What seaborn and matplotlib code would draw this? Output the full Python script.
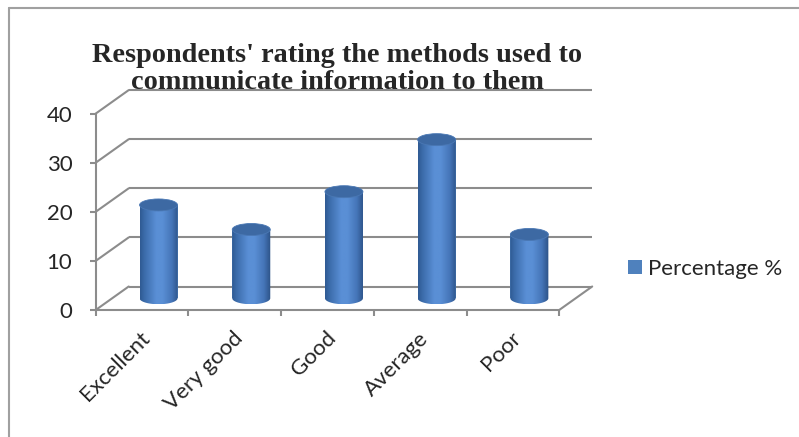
import numpy as np
import matplotlib
matplotlib.use("Agg")
import matplotlib.pyplot as plt
import matplotlib.transforms as mtransforms
from matplotlib.patches import Ellipse, PathPatch
from matplotlib.path import Path
from matplotlib.lines import Line2D
from matplotlib.colors import LinearSegmentedColormap
import seaborn as sns

# ---- data ----
categories = ["Excellent", "Very good", "Good", "Average", "Poor"]
percentages = [19.0, 14.0, 21.7, 32.3, 13.0]
y_ticks = [0, 10, 20, 30, 40]
title_lines = ["Respondents' rating the methods used to",
               "communicate information to them"]
series_label = "Percentage %"

# ---- style ----
sns.set_style("white")
plt.rcParams["font.family"] = ["Lato", "DejaVu Sans"]

W, H, DPI = 799, 437, 100
GRID = "#8c8c8c"
BLUE = "#4f81bd"
TICK_FS = 16

fig = plt.figure(figsize=(W / DPI, H / DPI), dpi=DPI)

# front plane of the 3-D box, in pixels from the top-left corner
left_px, right_px, base_px, top_px = 95.7, 559.2, 310.0, 113.6
ax = fig.add_axes([left_px / W, 1 - base_px / H,
                   (right_px - left_px) / W, (base_px - top_px) / H])
n = len(categories)
ymax = y_ticks[-1]

# depth of the box (pixels) and the same depth in data units
depth_dx, depth_dy = 33.0, 23.5
px_per_cat = (right_px - left_px) / n
px_per_unit = (base_px - top_px) / ymax
ddx, ddy = depth_dx / px_per_cat, depth_dy / px_per_unit

# bars sit half way into the box
mid = mtransforms.offset_copy(ax.transData, fig=fig,
                              x=depth_dx / 2, y=depth_dy / 2, units="dots")

# back wall gridlines, side-wall diagonals and floor edge
x_lo, x_hi = -0.5, n - 0.5
for t in y_ticks:
    ax.plot([x_lo + ddx, x_hi + ddx], [t + ddy, t + ddy], color=GRID,
            lw=1.5, clip_on=False, zorder=1, solid_capstyle="butt")
    ax.plot([x_lo, x_lo + ddx], [t, t + ddy], color=GRID,
            lw=1.5, clip_on=False, zorder=1)
ax.plot([x_hi, x_hi + ddx], [0, ddy], color=GRID, lw=1.5,
        clip_on=False, zorder=1)

# bar bodies through seaborn
bar_width = 0.41
sns.barplot(x=categories, y=percentages, color=BLUE, width=bar_width,
            saturation=1, ax=ax, transform=mid, clip_on=False, zorder=2,
            linewidth=0)

# cylinder shading: horizontal gradient clipped to body + bottom cap,
# and an elliptical lid on top
cyl_cmap = LinearSegmentedColormap.from_list(
    "cyl", [(0.0, "#2f5a92"), (0.12, "#3c6cab"), (0.42, "#5a8fd6"),
            (0.58, "#5a8fd5"), (0.82, "#4575b8"), (1.0, "#2b5185")])
grad = np.linspace(0, 1, 256).reshape(1, -1)
lid_h = 12.0 / px_per_unit
theta = np.linspace(np.pi, 2 * np.pi, 60)
for patch in ax.patches[:n]:
    x0, w, h = patch.get_x(), patch.get_width(), patch.get_height()
    cx = x0 + w / 2
    arc = np.column_stack([cx + w / 2 * np.cos(theta), lid_h / 2 * np.sin(theta)])
    verts = np.vstack([[x0, h], [x0, 0], arc, [x0 + w, 0], [x0 + w, h], [x0, h]])
    clip = PathPatch(Path(verts, closed=True), transform=mid)
    im = ax.imshow(grad, extent=[x0, x0 + w, -lid_h / 2, h], aspect="auto",
                   cmap=cyl_cmap, interpolation="bilinear", zorder=3)
    im.set_transform(mid)
    im.set_clip_path(clip)
    ax.add_patch(Ellipse((cx, h), w, lid_h, facecolor="#3d69a3",
                         edgecolor="#4a78b4", lw=0.6, transform=mid,
                         clip_on=False, zorder=4))

ax.set_xlim(x_lo, x_hi)
ax.set_ylim(0, ymax)

# axes, ticks and labels
for side in ("top", "right"):
    ax.spines[side].set_visible(False)
for side in ("left", "bottom"):
    ax.spines[side].set_color(GRID)
    ax.spines[side].set_linewidth(1.5)
ax.set_yticks(y_ticks)
ax.set_yticklabels([str(t) for t in y_ticks])
ax.tick_params(axis="y", direction="out", length=4.3, width=1.5,
               color=GRID, labelsize=TICK_FS, pad=12.5, left=True)
ax.set_xticks(range(n))
ax.set_xticklabels(categories)
ax.set_xticks(np.arange(x_lo, x_hi + 0.01, 1), minor=True)
ax.tick_params(axis="x", which="major", length=0, labelsize=TICK_FS, pad=13)
ax.tick_params(axis="x", which="minor", direction="out", length=4.3,
               width=1.5, color=GRID, bottom=True)
shift = mtransforms.ScaledTranslation(-2 / DPI, 0, fig.dpi_scale_trans)
for lab in ax.get_xticklabels():
    lab.set_rotation(45)
    lab.set_ha("right")
    lab.set_va("top")
    lab.set_rotation_mode("anchor")
    lab.set_transform(lab.get_transform() + shift)
ax.set_xlabel("")
ax.set_ylabel("")
ax.grid(False)

# legend
ax.legend(handles=[ax.containers[0]], labels=[series_label],
          loc="center left", bbox_to_anchor=(628 / W, 1 - 269 / H),
          bbox_transform=fig.transFigure, frameon=False, borderpad=0,
          borderaxespad=0, handlelength=0.62, handleheight=0.62,
          handletextpad=0.3, fontsize=TICK_FS)

# title
fig.text(337.5 / W, 1 - 43 / H, "\n".join(title_lines), ha="center", va="top",
         fontsize=20.3, fontweight="bold", family="Liberation Serif",
         linespacing=1.1)

# chart frame (left and top edges)
fig.add_artist(Line2D([9 / W, 9 / W], [0, 1 - 8 / H], color="#a0a0a0",
                      lw=1.5, transform=fig.transFigure))
fig.add_artist(Line2D([9 / W, 1], [1 - 8 / H, 1 - 8 / H], color="#a0a0a0",
                      lw=1.5, transform=fig.transFigure))

fig.savefig("out.png", dpi=DPI)
